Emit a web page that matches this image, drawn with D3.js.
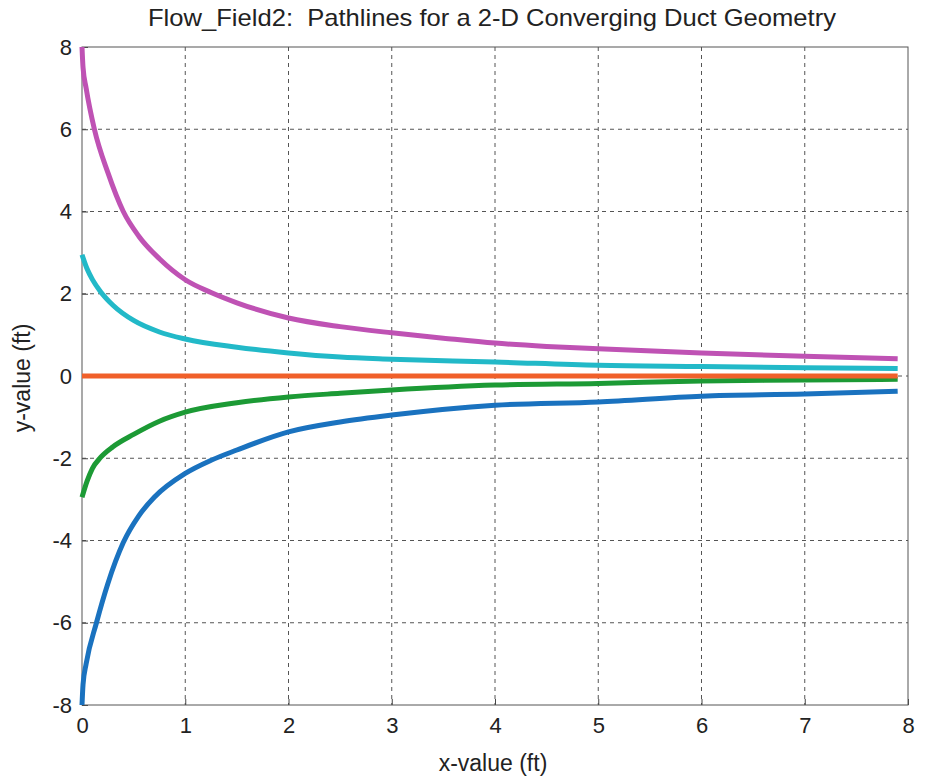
<!DOCTYPE html>
<html>
<head>
<meta charset="utf-8">
<script src="https://cdn.jsdelivr.net/npm/d3@7"></script>
<style>
  body { margin: 0; background: #fff; }
  svg text { font-family: "Liberation Sans", Arial, sans-serif; fill: #222; }
</style>
</head>
<body>
<svg id="chart" width="925" height="780"></svg>
<script>
// pathline samples: [x, y]
var magentaLine = [[0,8],[0.01,7.5],[0.04,7.0],[0.12,6],[0.25,4.95],[0.4,4.0],[0.55,3.4],[0.75,2.85],[1,2.34],[1.25,2.03],[1.5,1.78],[2,1.41],[2.5,1.2],[3,1.05],[3.5,0.92],[4,0.8],[4.5,0.72],[5,0.66],[6,0.56],[7,0.48],[7.9,0.42]];
var cyanLine = [[0,2.95],[0.05,2.6],[0.1,2.35],[0.18,2.05],[0.3,1.72],[0.5,1.35],[0.75,1.07],[1,0.9],[1.5,0.7],[2,0.56],[2.5,0.46],[3,0.41],[4,0.34],[5,0.26],[6,0.23],[7,0.2],[7.9,0.18]];
var orangeLine = [[0,0],[2,0],[4,0],[6,0],[7.9,0]];
var greenLine = [[0,-2.95],[0.05,-2.55],[0.1,-2.25],[0.18,-1.98],[0.3,-1.72],[0.5,-1.42],[0.75,-1.1],[1,-0.88],[1.5,-0.65],[2,-0.51],[2.5,-0.42],[3,-0.34],[4,-0.22],[5,-0.18],[6,-0.12],[7,-0.1],[7.9,-0.08]];
var blueLine = [[0,-8],[0.01,-7.5],[0.04,-7.0],[0.14,-6],[0.25,-5.05],[0.4,-4.05],[0.55,-3.4],[0.7,-2.95],[1,-2.37],[1.25,-2.05],[1.5,-1.8],[2,-1.36],[2.5,-1.12],[3,-0.95],[4,-0.71],[5,-0.63],[6,-0.49],[7,-0.44],[7.9,-0.37]];

var xTicks = [0,1,2,3,4,5,6,7,8];
var yTicks = [-8,-6,-4,-2,0,2,4,6,8];

var series = [
  {data: blueLine, color: "#1a72bf"},
  {data: greenLine, color: "#1c9a35"},
  {data: orangeLine, color: "#f0602a"},
  {data: cyanLine, color: "#22b9c8"},
  {data: magentaLine, color: "#bf52b4"}
];

var svg = d3.select("#chart"),
    margin = {top: 47, right: 17, bottom: 75, left: 82},
    width = +svg.attr("width") - margin.left - margin.right,
    height = +svg.attr("height") - margin.top - margin.bottom;

var g = svg.append("g").attr("transform", "translate(" + margin.left + "," + margin.top + ")");

var x = d3.scaleLinear().domain([0, 8]).range([0, width]);
var y = d3.scaleLinear().domain([-8, 8]).range([height, 0]);

// dashed grid
g.append("g")
  .selectAll("line")
  .data(xTicks.slice(1, -1))
  .enter().append("line")
    .attr("x1", function(d) { return x(d); })
    .attr("x2", function(d) { return x(d); })
    .attr("y1", 0).attr("y2", height)
    .attr("stroke", "#555").attr("stroke-width", 1)
    .attr("stroke-dasharray", "4,4");

g.append("g")
  .selectAll("line")
  .data(yTicks.slice(1, -1))
  .enter().append("line")
    .attr("y1", function(d) { return y(d); })
    .attr("y2", function(d) { return y(d); })
    .attr("x1", 0).attr("x2", width)
    .attr("stroke", "#555").attr("stroke-width", 1)
    .attr("stroke-dasharray", "4,4");

// axes (plain hyphen minus like the original)
var fmt = function(d) { return String(d); };
var xAxis = g.append("g")
    .attr("transform", "translate(0," + height + ")")
    .call(d3.axisBottom(x).tickValues(xTicks).tickFormat(fmt).tickSize(-6).tickPadding(12));
var yAxis = g.append("g")
    .call(d3.axisLeft(y).tickValues(yTicks).tickFormat(fmt).tickSize(-6).tickPadding(10));

[xAxis, yAxis].forEach(function(a) {
  a.select(".domain").remove();
  a.selectAll("line").attr("stroke", "#444");
  a.selectAll("text").attr("font-size", 22).attr("fill", "#222")
    .attr("font-family", "Liberation Sans, Arial, sans-serif");
});

// frame
g.append("rect")
  .attr("width", width).attr("height", height)
  .attr("fill", "none").attr("stroke", "#555").attr("stroke-width", 1);

var line = d3.line()
  .x(function(d) { return x(d[0]); })
  .y(function(d) { return y(d[1]); })
  .curve(d3.curveMonotoneX);

g.selectAll("path.flow")
  .data(series)
  .enter().append("path")
    .attr("class", "flow")
    .attr("fill", "none")
    .attr("stroke", function(d) { return d.color; })
    .attr("stroke-width", 5)
    .attr("stroke-linejoin", "round")
    .attr("d", function(d) { return line(d.data); });

// titles
svg.append("text")
  .attr("x", 492).attr("y", 26)
  .attr("text-anchor", "middle")
  .attr("font-size", 24)
  .attr("textLength", 688)
  .attr("lengthAdjust", "spacingAndGlyphs")
  .style("white-space", "pre")
  .text("Flow_Field2:  Pathlines for a 2-D Converging Duct Geometry");

svg.append("text")
  .attr("x", 493).attr("y", 771)
  .attr("text-anchor", "middle")
  .attr("font-size", 23)
  .text("x-value (ft)");

svg.append("text")
  .attr("transform", "translate(30,378) rotate(-90)")
  .attr("text-anchor", "middle")
  .attr("font-size", 23)
  .text("y-value (ft)");
</script>
</body>
</html>
